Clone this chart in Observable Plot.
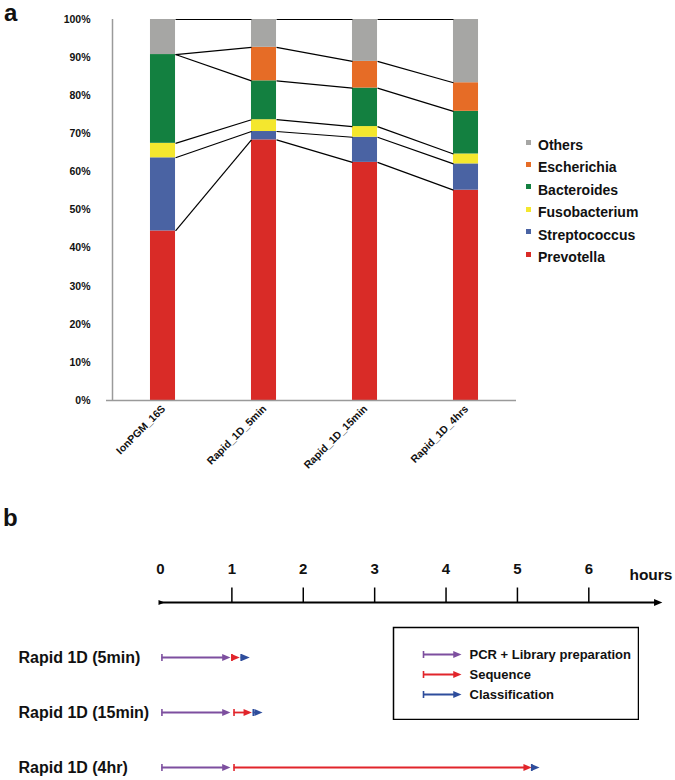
<!DOCTYPE html>
<html><head><meta charset="utf-8">
<script src="https://cdn.jsdelivr.net/npm/d3@7"></script>
<script src="https://cdn.jsdelivr.net/npm/@observablehq/plot@0.6"></script>
<style>
body{margin:0;background:#fff;font-family:"Liberation Sans",Arial,sans-serif;}
#page{position:relative;width:675px;height:780px;overflow:hidden;background:#fff;}
.panel{position:absolute;font-weight:bold;font-size:24px;line-height:26px;color:#111;}
.leg{position:absolute;font-weight:bold;font-size:14px;line-height:16px;color:#111;white-space:nowrap;display:flex;align-items:center;}
.sw{display:inline-block;width:5px;height:5px;margin-right:7px;position:relative;top:-3px;}
</style></head><body><div id="page"></div>
<script>
// ---------------- Panel a data ----------------
const samples = ["IonPGM_16S", "Rapid_1D_5min", "Rapid_1D_15min", "Rapid_1D_4hrs"];
const taxa = ["Prevotella", "Streptococcus", "Fusobacterium", "Bacteroides", "Escherichia", "Others"];
const prevotella    = [44.5, 68.4, 62.5, 55.2];
const streptococcus = [19.2,  2.2,  6.6,  6.9];
const fusobacterium = [ 3.8,  3.1,  2.8,  2.6];
const bacteroides   = [23.3, 10.2, 10.1, 11.2];
const escherichia   = [ 0.0,  8.8,  7.0,  7.5];
const others        = [ 9.2,  7.3, 11.0, 16.6];
const taxaColors = ["#d92b27", "#4a63a3", "#f4e72e", "#138040", "#e66c26", "#a6a6a4"];
const legendOrder = ["Others", "Escherichia", "Bacteroides", "Fusobacterium", "Streptococcus", "Prevotella"];
const percentTicks = [0, 10, 20, 30, 40, 50, 60, 70, 80, 90, 100];

// ---------------- Panel b data ----------------
const rapidRows = ["Rapid 1D (5min)", "Rapid 1D (15min)", "Rapid 1D (4hr)"];
const stages = ["PCR + Library preparation", "Sequence", "Classification"];
const stageColors = ["#7d4f9f", "#e1252b", "#2e4d9c"];
const pcrStart = [0.02, 0.02, 0.02];
const pcrEnd   = [0.98, 0.98, 0.98];
const seqStart = [1.00, 1.03, 1.03];
const seqEnd   = [1.11, 1.28, 5.20];
const clsStart = [1.13, 1.30, 5.20];
const clsEnd   = [1.25, 1.43, 5.31];
const hourTicks = [0, 1, 2, 3, 4, 5, 6];
const axisEnd = 7.03;
const timeUnit = "hours";

const FONT = '"Liberation Sans", Arial, sans-serif';
const page = document.getElementById("page");

// ---------------- Panel a ----------------
const series = [prevotella, streptococcus, fusobacterium, bacteroides, escherichia, others];
const HALF = 0.124; // half bar width in band units
const stacked = [];
const tops = samples.map(() => []);
samples.forEach((s, i) => {
  let acc = 0;
  taxa.forEach((t, k) => {
    const v = series[k][i];
    stacked.push({sample: s, index: i, taxon: t, y1: acc, y2: acc + v});
    acc += v;
    tops[i].push(acc);
  });
});
const links = [];
for (let i = 0; i < samples.length - 1; i++) {
  taxa.forEach((t, k) => links.push({x1: i + HALF, x2: i + 1 - HALF, y1: tops[i][k], y2: tops[i + 1][k]}));
}
const xDomainA = [-0.5, samples.length - 0.5];

const plotA = Plot.plot({
  width: 520, height: 480,
  marginTop: 19, marginBottom: 80, marginLeft: 112, marginRight: 4,
  x: {domain: xDomainA, axis: null},
  y: {domain: [0, 100]},
  color: {domain: taxa, range: taxaColors},
  style: {fontFamily: FONT, background: "transparent", color: "#111"},
  marks: [
    Plot.axisY({ticks: percentTicks, tickFormat: d => d + "%", tickSize: 0, tickPadding: 22, fontSize: 10.5, fontWeight: "bold", label: null}),
    Plot.rect(stacked, {x1: d => d.index - HALF, x2: d => d.index + HALF, y1: "y1", y2: "y2", fill: "taxon"}),
    Plot.link(links, {x1: "x1", y1: "y1", x2: "x2", y2: "y2", stroke: "#000", strokeWidth: 1.2}),
    Plot.ruleX([xDomainA[0]], {stroke: "#9a9a9a", strokeWidth: 1.5}),
    Plot.ruleY([0], {stroke: "#9a9a9a", strokeWidth: 1.5, insetLeft: -6}),
    Plot.text(samples, {x: (d, i) => i, frameAnchor: "bottom", rotate: -45, textAnchor: "end", dx: 3, dy: 9, fontSize: 10.5, fontWeight: "bold", fill: "#111"})
  ]
});
plotA.style.position = "absolute"; plotA.style.left = "0px"; plotA.style.top = "0px";
page.appendChild(plotA);

// legend a (HTML)
legendOrder.forEach((name, j) => {
  const div = document.createElement("div");
  div.className = "leg";
  div.style.left = "526px";
  div.style.top = (145 + j * 22.4 - 8) + "px";
  const sw = document.createElement("span");
  sw.className = "sw";
  sw.style.background = taxaColors[taxa.indexOf(name)];
  div.appendChild(sw);
  div.appendChild(document.createTextNode(name));
  page.appendChild(div);
});

// panel letters
const la = document.createElement("div"); la.className = "panel"; la.textContent = "a";
la.style.left = "4px"; la.style.top = "0px"; page.appendChild(la);
const lb = document.createElement("div"); lb.className = "panel"; lb.textContent = "b";
lb.style.left = "3px"; lb.style.top = "505px"; page.appendChild(lb);

// ---------------- Panel b ----------------
const headSymbol = {draw(ctx, size) { const r = Math.sqrt(size / Math.PI); ctx.moveTo(0, 0); ctx.lineTo(-2.3 * r, -r); ctx.lineTo(-2.3 * r, r); ctx.closePath(); }};
const barSymbol = {draw(ctx, size) { const r = Math.sqrt(size / Math.PI); ctx.moveTo(0, -r); ctx.lineTo(0, r); }};
const tickUpSymbol = {draw(ctx, size) { const r = Math.sqrt(size / Math.PI); ctx.moveTo(0, 0); ctx.lineTo(0, -r); }};

const stageStarts = [pcrStart, seqStart, clsStart];
const stageEnds = [pcrEnd, seqEnd, clsEnd];
const segs = [];
rapidRows.forEach((row, i) => stages.forEach((stage, k) => segs.push({row, stage, start: stageStarts[k][i], end: stageEnds[k][i]})));

const AXIS = timeUnit;
const plotB = Plot.plot({
  width: 675, height: 240,
  marginTop: 61, marginBottom: 12.2, marginLeft: 18, marginRight: 3,
  x: {domain: [0, 7], range: [160, 659.7], axis: null},
  y: {type: "point", domain: [AXIS, ...rapidRows], padding: 0, axis: null},
  color: {domain: stages, range: stageColors},
  style: {fontFamily: FONT, background: "transparent", color: "#111"},
  marks: [
    Plot.ruleY([AXIS], {x1: 0, x2: axisEnd, stroke: "#000", strokeWidth: 2, insetRight: 4}),
    Plot.dot([axisEnd], {x: d => d, y: () => AXIS, symbol: headSymbol, r: 3.6, fill: "#000", stroke: "none"}),
    Plot.dot([hourTicks[0]], {x: d => d, y: () => AXIS, symbol: headSymbol, r: 2.6, dx: 4, fill: "#000", stroke: "none"}),
    Plot.dot(hourTicks.slice(1), {x: d => d, y: () => AXIS, symbol: tickUpSymbol, r: 15, fill: "none", stroke: "#000", strokeWidth: 1.5}),
    Plot.text(hourTicks, {x: d => d, y: () => AXIS, dy: -33, text: d => String(d), fontSize: 15, fontWeight: "bold", fill: "#111"}),
    Plot.text([timeUnit], {frameAnchor: "top-right", textAnchor: "end", dy: -33, fontSize: 15.5, fontWeight: "bold", fill: "#111"}),
    Plot.text(rapidRows, {y: d => d, frameAnchor: "left", textAnchor: "start", fontSize: 16, fontWeight: "bold", fill: "#111"}),
    Plot.ruleY(segs, {y: "row", x1: "start", x2: "end", stroke: "stage", strokeWidth: 1.8, insetRight: 3}),
    Plot.dot(segs, {x: "start", y: "row", symbol: barSymbol, r: 3.5, stroke: "stage", strokeWidth: 1.6, fill: "none"}),
    Plot.dot(segs, {x: "end", y: "row", symbol: headSymbol, r: 3.6, fill: "stage", stroke: "none"})
  ]
});
plotB.style.position = "absolute"; plotB.style.left = "0px"; plotB.style.top = "540px";
page.appendChild(plotB);

// legend box b
const legB = Plot.plot({
  width: 247, height: 94,
  marginTop: 1, marginBottom: 1, marginLeft: 1, marginRight: 1,
  x: {domain: [0, 1], range: [31, 69], axis: null},
  y: {type: "point", domain: stages, range: [28, 68], padding: 0, axis: null},
  color: {domain: stages, range: stageColors},
  style: {fontFamily: FONT, background: "transparent", color: "#111"},
  marks: [
    Plot.frame({stroke: "#000", strokeWidth: 1.5}),
    Plot.ruleY(stages, {y: d => d, x1: 0, x2: 1, stroke: d => d, strokeWidth: 1.8, insetRight: 3}),
    Plot.dot(stages, {x: () => 0, y: d => d, symbol: barSymbol, r: 3.5, stroke: d => d, strokeWidth: 1.6, fill: "none"}),
    Plot.dot(stages, {x: () => 1, y: d => d, symbol: headSymbol, r: 3.6, fill: d => d, stroke: "none"}),
    Plot.text(stages, {x: () => 1, y: d => d, dx: 8, textAnchor: "start", fontSize: 13, fontWeight: "bold", fill: "#111"})
  ]
});
legB.style.position = "absolute"; legB.style.left = "392px"; legB.style.top = "626px";
page.appendChild(legB);
</script></body></html>
